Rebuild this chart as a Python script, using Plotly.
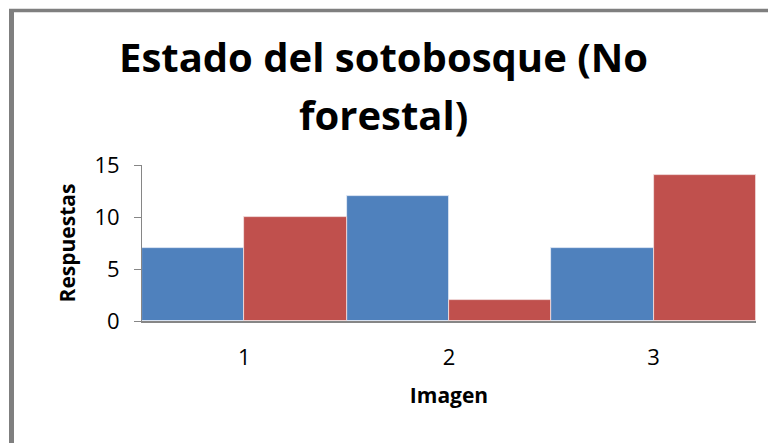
import plotly.graph_objects as go

categories = ["1", "2", "3"]
serie_a = [7, 12, 7]
serie_b = [10, 2, 14]
y_ticks = [0, 5, 10, 15]
title_lines = ["Estado del sotobosque (No", "forestal)"]

W, H = 768, 443
L, R, T, B = 142, 12, 165, 122
pw, ph = W - L - R, H - T - B

def px_x(p):
    return (p - L) / pw

def px_y(p):
    return (H - B - p) / ph

FONT = "Open Sans"

fig = go.Figure()
fig.add_trace(go.Bar(x=categories, y=serie_a, marker=dict(color="#4F81BD", line=dict(color="#e8eef7", width=0.8)), name="A"))
fig.add_trace(go.Bar(x=categories, y=serie_b, marker=dict(color="#C0504D", line=dict(color="#f4e4e4", width=0.8)), name="B"))

fig.update_layout(
    width=W, height=H,
    margin=dict(l=L, r=R, t=T, b=B, pad=0),
    paper_bgcolor="white", plot_bgcolor="white",
    barmode="group", bargap=0, bargroupgap=0,
    showlegend=False,
    font=dict(family=FONT, color="black"),
)
fig.update_xaxes(
    showgrid=False, showline=True, linecolor="#868686", linewidth=2,
    ticks="", tickfont=dict(size=22, family=FONT), ticklabelstandoff=16,
    title=dict(text="<b>Imagen</b>", font=dict(size=21, family=FONT), standoff=18),
)
fig.update_yaxes(
    range=[0, 15], tickvals=y_ticks, showgrid=False, zeroline=False,
    showline=True, linecolor="#868686", linewidth=1,
    ticks="outside", ticklen=7, tickcolor="#868686",
    tickfont=dict(size=22, family=FONT), ticklabelstandoff=10,
    title=dict(text="<b>Respuestas</b>", font=dict(size=21, family=FONT), standoff=13),
)

for i, (txt, py) in enumerate(zip(title_lines, [56, 114])):
    fig.add_annotation(
        text="<b>%s</b>" % txt, xref="paper", yref="paper",
        x=px_x(383), y=px_y(py), xanchor="center", yanchor="middle",
        showarrow=False, font=dict(size=40, family=FONT, color="black"),
    )

border = "#7f7f7f"
fig.add_shape(type="line", xref="paper", yref="paper",
              x0=px_x(9), x1=px_x(770), y0=px_y(10.5), y1=px_y(10.5),
              line=dict(color=border, width=3.5))
fig.add_shape(type="line", xref="paper", yref="paper",
              x0=px_x(11.5), x1=px_x(11.5), y0=px_y(9), y1=px_y(446),
              line=dict(color=border, width=5))

fig.write_html("out.html", config={"displayModeBar": False},
               post_script="document.body.style.margin='0';document.body.style.overflow='hidden';")
